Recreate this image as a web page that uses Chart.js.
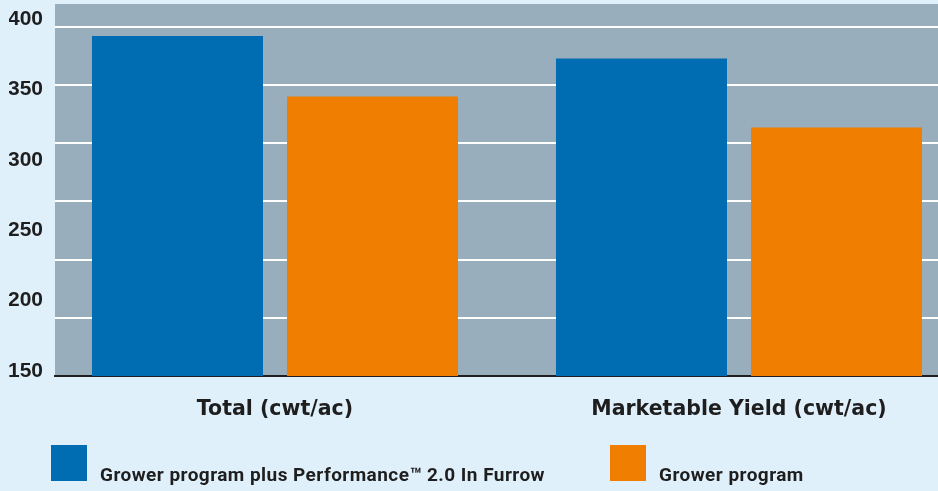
<!DOCTYPE html>
<html>
<head>
<meta charset="utf-8">
<script src="https://cdn.jsdelivr.net/npm/chart.js@4.4.1/dist/chart.umd.min.js"></script>
<style>
  html, body { margin: 0; padding: 0; background: #e0f0fb; }
  #wrap { position: relative; width: 938px; height: 491px; overflow: hidden; }
  #wrap canvas { position: absolute; left: 0; top: 0; }
  .leg-item { position: absolute; top: 445px; height: 36px; display: flex; align-items: flex-end; }
  .leg-box { width: 36px; height: 36px; flex: none; }
  .leg-text { margin-left: 13px; font-family: Roboto, "Liberation Sans", sans-serif; font-weight: bold; font-size: 19px; letter-spacing: 0.45px; line-height: 19px; color: #1e1e1e; white-space: nowrap; position: relative; top: 3px; }
</style>
</head>
<body>
<div id="wrap">
  <canvas id="c"></canvas>
  <div id="legend"></div>
</div>
<script>
// ---- data ----
const categories = ['Total (cwt/ac)', 'Marketable Yield (cwt/ac)'];
const seriesNames = ['Grower program plus Performance™ 2.0 In Furrow', 'Grower program'];
const performanceValues = [388, 372];
const growerValues = [345, 323];
const yTickLabels = [150, 200, 250, 300, 350, 400];
const gridSteps = [0, 1, 2, 3, 4, 5, 6];

const seriesColors = ['#006db3', '#f07e00'];
const legendLefts = [51, 610];

const plotBg = {
  id: 'plotBg',
  beforeDraw(chart) {
    const a = chart.chartArea, ctx = chart.ctx;
    ctx.save();
    ctx.fillStyle = '#99aebc';
    ctx.fillRect(a.left, a.top, a.right - a.left, a.bottom - a.top);
    ctx.restore();
  }
};

const seriesValues = [performanceValues, growerValues];

new Chart(document.getElementById('c'), {
  type: 'bar',
  data: {
    datasets: seriesNames.map((name, s) => ({
      label: name,
      data: seriesValues[s].map((v, i) => ({ x: i, y: v })),
      backgroundColor: seriesColors[s],
      borderWidth: 0
    }))
  },
  options: {
    responsive: true,
    maintainAspectRatio: false,
    animation: false,
    layout: { padding: { left: 9, top: 4, right: 0, bottom: 70 } },
    plugins: { legend: { display: false }, tooltip: { enabled: false } },
    datasets: { bar: { categoryPercentage: 0.8405, barPercentage: 0.877 } },
    scales: {
      x: {
        type: 'linear',
        offset: false,
        min: -0.4741,
        max: 1.4289,
        z: 1,
        grid: { display: false, drawTicks: false, offset: false },
        border: { display: true, color: '#1e1e1e', width: 2 },
        afterBuildTicks: s => { s.ticks = categories.map((c, i) => ({ value: i })); },
        ticks: {
          callback: (v, i) => categories[i],
          padding: 21,
          maxRotation: 0,
          autoSkip: false,
          color: '#1e1e1e',
          font: { family: 'DejaVu Sans', weight: 'bold', size: 20.5, lineHeight: 1.2 }
        },
        afterFit: s => { s.height = 45; }
      },
      y: {
        position: 'left',
        min: 146.45,
        max: 410.65,
        grid: { display: false, drawTicks: false },
        border: { display: false },
        afterBuildTicks: s => { s.ticks = yTickLabels.map(v => ({ value: v })); },
        ticks: {
          padding: 12,
          color: '#1e1e1e',
          font: { family: 'Liberation Sans', weight: 'bold', size: 21 }
        },
        afterFit: s => { s.width = 46; s.paddingTop = 0; s.paddingBottom = 0; }
      },
      gridY: {
        type: 'linear',
        position: 'left',
        min: 0,
        max: 6.395,
        grid: {
          color: c => (c.tick && c.tick.value === 0) ? 'rgba(0,0,0,0)' : '#ffffff',
          lineWidth: 2,
          drawTicks: false
        },
        border: { display: false },
        ticks: { display: false },
        afterBuildTicks: s => { s.ticks = gridSteps.map(v => ({ value: v })); },
        afterFit: s => { s.width = 0; s.paddingTop = 0; s.paddingBottom = 0; }
      }
    }
  },
  plugins: [plotBg]
});

// legend (HTML, built from the series arrays)
const legend = document.getElementById('legend');
seriesNames.forEach((name, s) => {
  const item = document.createElement('div');
  item.className = 'leg-item';
  item.style.left = legendLefts[s] + 'px';
  const box = document.createElement('div');
  box.className = 'leg-box';
  box.style.background = seriesColors[s];
  const txt = document.createElement('span');
  txt.className = 'leg-text';
  txt.textContent = name;
  item.appendChild(box);
  item.appendChild(txt);
  legend.appendChild(item);
});
</script>
</body>
</html>
